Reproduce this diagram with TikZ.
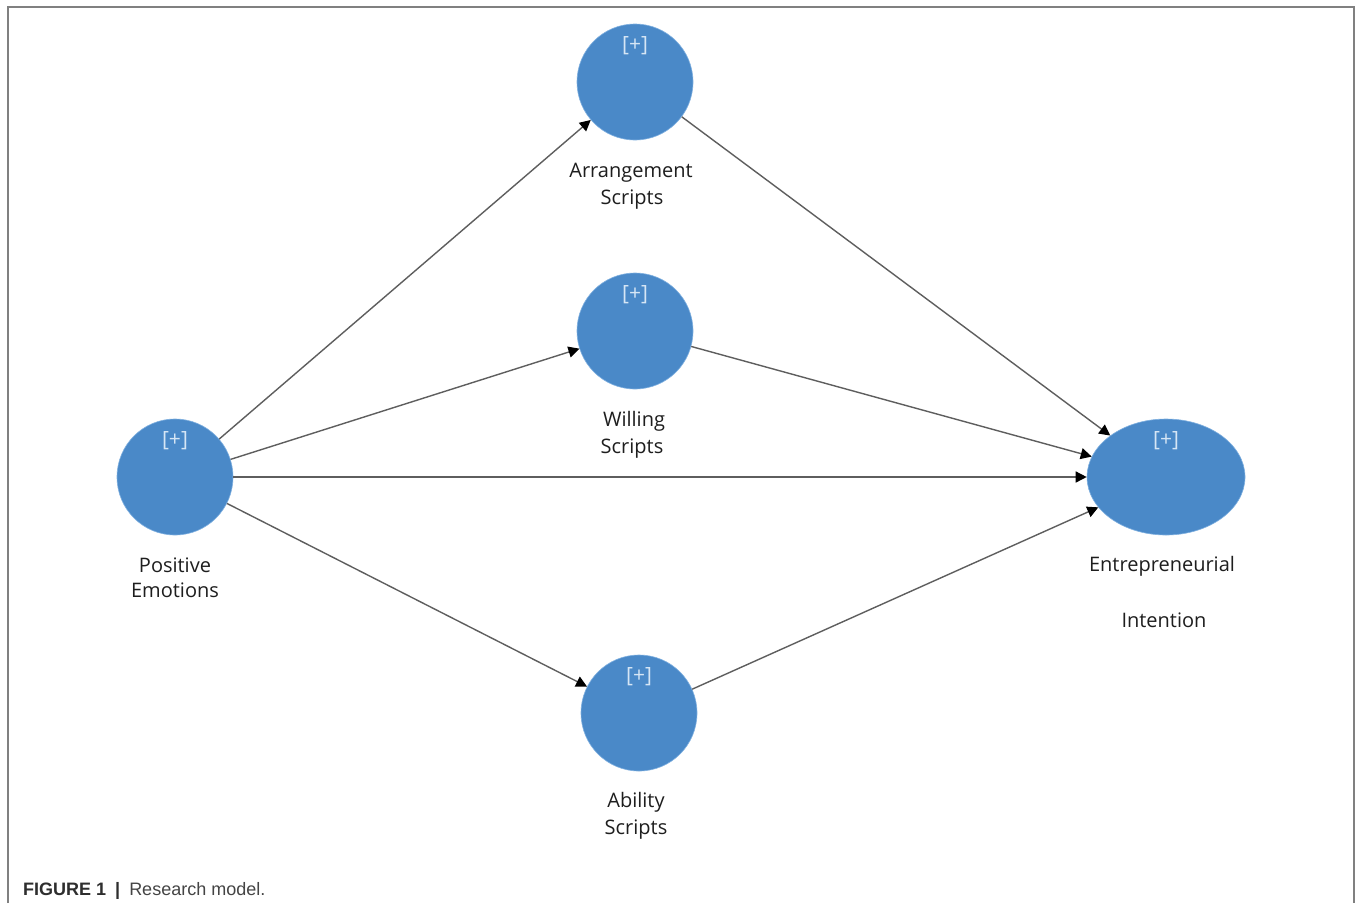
\documentclass[tikz,border=0pt]{standalone}
\usepackage{fontspec}
\setmainfont{Open Sans}
\newfontfamily\capfont{Liberation Sans}
\usetikzlibrary{arrows.meta,shapes.geometric}
\definecolor{nodeblue}{HTML}{4A89C8}
\definecolor{nodeedge}{HTML}{7FB0E0}
\definecolor{plustext}{HTML}{D6E6F5}
\definecolor{linegray}{HTML}{5E5E5E}
\definecolor{framegray}{HTML}{808080}
\definecolor{labeltext}{HTML}{1E1E1E}
\definecolor{captext}{HTML}{2E2E2E}
\definecolor{capbody}{HTML}{444444}
\begin{document}
\begin{tikzpicture}[x=1pt,y=-1pt,
  construct/.style={circle,fill=nodeblue,draw=nodeedge,line width=0.6pt,
    minimum size=116pt,inner sep=0pt},
  wideconstruct/.style={ellipse,fill=nodeblue,draw=nodeedge,line width=0.6pt,
    minimum width=158pt,minimum height=116pt,inner sep=0pt},
  plus/.style={anchor=base,text=plustext,font=\fontsize{21}{24}\selectfont,inner sep=0pt},
  lbl/.style={anchor=base,text=labeltext,font=\fontsize{20}{24}\selectfont,inner sep=0pt},
  path/.style={draw=linegray,line width=1.4pt,
    -{Triangle[length=11pt,width=11pt,color=black]}}]
  \useasboundingbox (0,0) rectangle (1356,903);
  \fill[white] (0,0) rectangle (1356,903);

  % figure frame (open at the bottom)
  \draw[framegray,line width=1.5pt] (8,903) -- (8,7) -- (1354,7) -- (1354,903);

  % constructs
  \node[construct] (pe)  at (175,477) {};
  \node[construct] (arr) at (635,82)  {};
  \node[construct] (wil) at (635,331) {};
  \node[construct] (abi) at (639,713) {};
  \node[wideconstruct] (ei) at (1166,477) {};

  % expand markers
  \node[plus] (pep)  at (175,446)  {[+]};
  \node[plus] (arrp) at (635,51)   {[+]};
  \node[plus] (wilp) at (635,300)  {[+]};
  \node[plus] (abip) at (639,682)  {[+]};
  \node[plus] (eip)  at (1166,446) {[+]};

  % construct names
  \node[lbl] (pel1)  at (175,572)  {Positive};
  \node[lbl] (pel2)  at (175,597)  {Emotions};
  \node[lbl] (arrl1) at (631,177)  {Arrangement};
  \node[lbl] (arrl2) at (632,204)  {Scripts};
  \node[lbl] (will1) at (634,426)  {Willing};
  \node[lbl] (will2) at (632,453)  {Scripts};
  \node[lbl] (abil1) at (636,807)  {Ability};
  \node[lbl] (abil2) at (636,834)  {Scripts};
  \node[lbl] (eil1)  at (1162,571) {Entrepreneurial};
  \node[lbl] (eil2)  at (1164,627) {Intention};

  % structural paths
  \draw[path] (pe) -- (arr);
  \draw[path] (pe) -- (wil);
  \draw[path] (pe) -- (ei);
  \draw[path] (pe) -- (abi);
  \draw[path] (arr) -- (ei);
  \draw[path] (wil) -- (ei);
  \draw[path] (abi) -- (ei);

  % caption
  \node[anchor=base west,inner sep=0pt,text=captext,
    font=\capfont\fontsize{18}{20}\selectfont] (cap) at (23,895)
    {\textbf{FIGURE 1\enspace|}\enspace\textcolor{capbody}{Research model.}};
\end{tikzpicture}
\end{document}
